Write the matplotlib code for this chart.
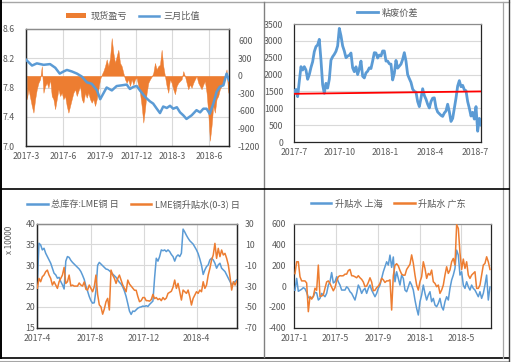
import numpy as np
import pandas as pd
import matplotlib
matplotlib.use('Agg')
import matplotlib.pyplot as plt
import matplotlib.dates as mdates
import matplotlib.transforms as mtransforms
from matplotlib.ticker import FuncFormatter
from matplotlib.lines import Line2D
from matplotlib.patches import Patch

plt.rcParams['font.family'] = ['Noto Sans CJK SC', 'DejaVu Sans']
plt.rcParams['axes.unicode_minus'] = False

# ---------------- data ----------------
# Panel 1: 现货盈亏 (bars, right axis) and 三月比值 (line, left axis)
p1_bar_values = [
    -400, -230, -370, -515, -630, -400, -230, -120, -60, 165,
    -290, -175, -120, -205, -60, -345, -400, -570, -400, -230,
    -345, -290, -400, -345, -515, -630, -515, -400, -290, -230,
    -345, -260, -175, -400, -460, -290, -375, -290, -400, -460,
    -400, -515, -400, -230, -60, 20, 80, 165, 280, 165,
    305, 645, 390, 220, 335, 445, 220, 165, 50, -60,
    -120, -60, -175, -60, -150, -60, -35, -175, -290, -515,
    -800, -570, -290, -120, -60, -15, 50, 220, 110, 165,
    190, 445, 165, -5, -175, -290, -60, -120, -230, -315,
    -175, -120, -90, -60, 80, -5, -120, -230, -150, -205,
    -120, -60, -5, -120, -175, -230, -150, -90, -290, -630,
    -1110, -855, -515, -630, -400, -345, -230, -175, -120, -5,
    110, -290]
p1_bar_start, p1_bar_end = '2017-03-03', '2018-07-18'

p1_line_dates = [
    '2017-03-01', '2017-03-16', '2017-03-28', '2017-04-14', '2017-04-30', '2017-05-13',
    '2017-05-24', '2017-06-03', '2017-06-11', '2017-06-23', '2017-07-06', '2017-07-18',
    '2017-07-31', '2017-08-12', '2017-08-25', '2017-09-02', '2017-09-10', '2017-09-18',
    '2017-10-01', '2017-10-13', '2017-10-26', '2017-11-07', '2017-11-15', '2017-11-24',
    '2017-12-02', '2017-12-10', '2017-12-23', '2018-01-04', '2018-01-12', '2018-01-21',
    '2018-01-29', '2018-02-06', '2018-02-15', '2018-02-23', '2018-03-03', '2018-03-12',
    '2018-03-20', '2018-03-28', '2018-04-05', '2018-04-18', '2018-04-30', '2018-05-09',
    '2018-05-17', '2018-05-25', '2018-06-02', '2018-06-11', '2018-06-19', '2018-06-27',
    '2018-07-06', '2018-07-14', '2018-07-20']
p1_line_values = [
    8.18, 8.10, 8.13, 8.11, 8.12, 8.07,
    7.99, 8.02, 8.04, 8.02, 7.99, 7.95,
    7.87, 7.85, 7.76, 7.64, 7.72, 7.80,
    7.76, 7.82, 7.83, 7.84, 7.78, 7.81,
    7.82, 7.76, 7.67, 7.61, 7.58, 7.51,
    7.45, 7.54, 7.52, 7.55, 7.51, 7.53,
    7.46, 7.42, 7.37, 7.42, 7.49, 7.46,
    7.51, 7.51, 7.44, 7.58, 7.74, 7.81,
    7.83, 7.99, 7.90]
p1_left_ticks = [7.0, 7.4, 7.8, 8.2, 8.6]
p1_right_ticks = [-1200, -900, -600, -300, 0, 300, 600]
p1_xticks = ['2017-03-01', '2017-06-01', '2017-09-01', '2017-12-01', '2018-03-01', '2018-06-01']

# Panel 2: 粘废价差
p2_values = [
    1490, 1560, 1345, 1800, 2235, 2135, 2235, 2135, 1860, 2000,
    2210, 2380, 2680, 2830, 2880, 3045, 2430, 1700, 1445, 1740,
    1600, 1860, 2430, 2530, 2600, 2690, 2850, 3370, 3150, 2850,
    2700, 2500, 2550, 2570, 2640, 2200, 2085, 2230, 2000, 2170,
    2400, 1950, 1900, 2050, 2100, 2200, 2180, 2400, 2650, 2640,
    2490, 2580, 2550, 2700, 2700, 2400, 2400, 2320, 2310, 1840,
    2035, 2420, 2190, 2250, 2310, 2450, 2650, 2400, 2000, 1880,
    1770, 1570, 1500, 1480, 1200, 1050, 1300, 1580, 1380, 1270,
    1120, 1010, 1200, 1300, 1310, 1020, 890, 840, 790, 760,
    860, 920, 1120, 900, 610, 700, 1000, 1300, 1660, 1820,
    1640, 1680, 1550, 1520, 1200, 1000, 770, 880, 680, 1050,
    320, 700, 505]
p2_start, p2_end = '2017-07-01', '2018-07-13'
p2_ref_dates = ['2017-07-01', '2018-07-13']
p2_ref_values = [1430, 1500]
p2_yticks = [0, 500, 1000, 1500, 2000, 2500, 3000, 3500]
p2_xticks = ['2017-07-01', '2017-10-01', '2018-01-01', '2018-04-01', '2018-07-01']

# Panel 3: 总库存:LME铜 日 (left, x10000) and LME铜升贴水(0-3) 日 (right)
p3_stock = [
    25.5, 35.3, 34.9, 33.7, 34.1, 32.9, 32.1, 31.3, 30.5, 29.3,
    28.1, 27.7, 26.9, 27.1, 26.1, 25.3, 24.3, 31.0, 32.1, 31.9,
    31.2, 30.7, 30.3, 29.9, 29.5, 29.1, 28.5, 27.6, 26.6, 25.0,
    23.8, 22.5, 21.5, 20.9, 21.0, 24.0, 30.0, 30.7, 30.3, 29.9,
    29.5, 29.1, 29.0, 28.7, 28.3, 27.9, 27.5, 27.1, 26.5, 25.9,
    25.5, 24.8, 23.8, 22.5, 20.8, 19.0, 18.2, 19.0, 18.9, 19.3,
    19.7, 19.9, 20.0, 20.2, 20.1, 20.3, 20.1, 20.6, 21.0, 21.4,
    27.0, 31.7, 31.0, 32.1, 33.7, 33.5, 33.7, 33.3, 33.7, 33.3,
    32.6, 32.1, 31.0, 32.1, 32.5, 32.1, 32.9, 38.7, 38.0, 37.2,
    36.5, 35.9, 35.5, 35.1, 34.4, 33.7, 32.8, 31.5, 30.0, 27.8,
    28.9, 29.7, 30.1, 31.3, 31.7, 31.3, 30.5, 29.3, 30.1, 30.5,
    29.3, 28.9, 28.5, 27.7, 26.9, 26.1, 25.3, 25.7, 26.1, 26.5]
p3_spread = [
    -32, -22.6, -25.8, -21.0, -19.4, -16.2, -14.6, -19.4, -22.6, -29.0,
    -25.8, -29.0, -32.2, -25.8, -22.6, -19.4, -12, -27.4, -25.8, -19.4,
    -29.8, -29, -30, -30, -30, -27, -29, -30, -26, -33,
    -33.8, -29.0, -32.2, -35.4, -30.6, -19.4, -38, -48, -50, -57,
    -52, -45.0, -41.8, -53.0, -14.6, -19.4, -22.6, -27.4, -22.6, -19.4,
    -24.2, -29.0, -32.2, -35.4, -24.2, -28, -30, -32, -34, -34,
    -40, -45, -44, -41, -41, -44, -44, -44.5, -43, -38,
    -42, -41, -43, -42, -44, -41, -43, -41.5, -37, -36,
    -35, -31, -24.2, -32.2, -27.4, -35.4, -43.4, -33.8, -35.4, -37.0,
    -33.8, -40.2, -48.2, -41.8, -38.6, -35.4, -37.0, -33.8, -35.4, -25.8,
    -32.2, -29.0, -19.4, -13.0, -5.0, -0.1, 11.1, -3.3, 6.3, -1.7,
    4.7, -0.1, 1.5, -3.3, -9.7, -21.0, -33.8, -25.8, -29.0, -25.1]
p3_start, p3_end = '2017-04-01', '2018-07-02'
p3_left_ticks = [15, 20, 25, 30, 35, 40]
p3_right_ticks = [-70, -50, -30, -10, 10, 30]
p3_xticks = ['2017-04-01', '2017-08-01', '2017-12-01', '2018-04-01']

# Panel 4: 升贴水 上海 / 升贴水 广东
p4_shanghai = [
    -40, 74, -50, -40, -30, -15, -25, -60, -110, -115,
    -110, -100, -60, -65, -134, -118, -70, -86, -102, -70,
    10, 42, 130, 30, 42, 90, 42, 10, -38, -38,
    -38, -6, -22, -54, -70, -102, -134, -70, 10, -22,
    -70, -38, -22, -70, -22, 10, -38, -70, -102, -70,
    -22, 10, 74, 138, 186, 234, 202, 298, 180, 280,
    42, 138, 74, 10, 106, 74, -38, -54, -6, 42,
    10, -38, -134, -214, -278, -150, -86, 10, -70, -134,
    -86, -54, -150, -118, -182, -198, -166, -118, -198, -230,
    -150, -102, -134, -22, 58, 106, 170, 346, 298, 106,
    138, 10, -22, 42, -6, -38, 10, -22, -38, -70,
    -102, -54, -118, -70, 10, 106, -134, -10]
p4_guangdong = [
    120, 234, 234, 90, 50, 50, 50, 30, -246, -100,
    -125, -100, -20, -40, 202, -100, -95, -85, -20, 40,
    50, 25, -10, -45, -15, 50, 90, 100, 98, 100,
    115, 115, 150, 160, 100, 98, 90, 80, 100, 80,
    65, 40, -5, 0, 35, 80, 40, -45, -40, -15,
    0, 25, 75, 60, 35, 50, 50, 60, -230, 100,
    200, 215, 195, 150, 115, 105, 105, 160, 185, 210,
    300, 220, 106, 10, -38, 42, 90, 234, 170, 74,
    122, 106, 154, 42, 26, -6, 10, -70, -38, 10,
    106, 186, 122, 154, 234, 266, 202, 590, 555, 320,
    160, 260, 170, 234, 106, 74, 106, 122, 138, -22,
    -22, 10, 106, 202, 218, 282, 234, 160]
p4_start, p4_end = '2017-01-03', '2018-07-23'
p4_yticks = [-400, -200, 0, 200, 400, 600]
p4_xticks = ['2017-01-01', '2017-05-01', '2017-09-01', '2018-01-01', '2018-05-01']

# ---------------- styling ----------------
BLUE = '#5B9BD5'
ORANGE = '#ED7D31'
RED = '#FF0000'
TXT = '#595959'
GRID = '#D9D9D9'
FS = 6.3
LFS = 6.6

W, H = 513, 362
fig = plt.figure(figsize=(W / 100, H / 100), dpi=100)
fig.patch.set_facecolor('white')


def rect(l, t, r, b):
    return [l / W, 1 - b / H, (r - l) / W, (b - t) / H]


def ym(d):
    d = mdates.num2date(d)
    return f"{d.year}-{d.month}"


month_fmt = FuncFormatter(lambda v, p: ym(v))


def style(ax):
    for s in ax.spines.values():
        s.set_color('#262626')
        s.set_linewidth(0.9)
    ax.spines['top'].set_color('#8C8C8C')
    ax.tick_params(length=0, labelsize=FS, colors=TXT)
    ax.set_facecolor('none')


def dt(lst):
    return pd.to_datetime(lst)


# ---------- Panel 1 ----------
ax1 = fig.add_axes(rect(26, 29, 229, 146))
ax1b = ax1.twinx()
style(ax1)
style(ax1b)
p1_bar_dates = pd.date_range(p1_bar_start, p1_bar_end, periods=len(p1_bar_values))
ax1.fill_between(p1_bar_dates, 0, p1_bar_values, color=ORANGE, linewidth=0.3,
                 edgecolor=ORANGE, zorder=2)
ax1.set_ylim(-1200, 800)
ax1.set_yticks(p1_right_ticks)
ax1.yaxis.tick_right()
ax1.tick_params(axis='y', pad=6.5)
ax1b.plot(dt(p1_line_dates), p1_line_values, color=BLUE, lw=1.8, zorder=3)
ax1b.set_ylim(7.0, 8.6)
ax1b.set_yticks(p1_left_ticks)
ax1b.yaxis.set_major_formatter(FuncFormatter(lambda v, p: f"{v:.1f}"))
ax1b.yaxis.tick_left()
ax1b.tick_params(axis='y', pad=8)
ax1.set_xlim(dt(['2017-03-01'])[0], dt(['2018-07-20'])[0])
ax1.set_xticks(dt(p1_xticks))
ax1.xaxis.set_major_formatter(month_fmt)
ax1.tick_params(axis='x', pad=4.5)
ax1.xaxis.grid(True, color=GRID, lw=0.8)
ax1.set_axisbelow(True)
tr = mtransforms.blended_transform_factory(ax1.transAxes, ax1b.transData)
for v in p1_left_ticks[1:-1]:
    ax1.plot([0, 1], [v, v], transform=tr, color=GRID, lw=0.8, zorder=1)

fig.legend(handles=[Patch(facecolor=ORANGE, edgecolor='none'),
                    Line2D([], [], color=BLUE, lw=1.8)],
           labels=['现货盈亏', '三月比值'], loc='center',
           bbox_to_anchor=(133 / W, 1 - 16 / H), ncol=2, frameon=False,
           fontsize=LFS, labelcolor=TXT, handlelength=2.2, handleheight=0.6,
           columnspacing=1.3, handletextpad=0.5)

# ---------- Panel 2 ----------
ax2 = fig.add_axes(rect(294.3, 24, 481, 142))
style(ax2)
p2_dates = pd.date_range(p2_start, p2_end, periods=len(p2_values))
ax2.plot(p2_dates, p2_values, color=BLUE, lw=2.0, zorder=3)
ax2.plot(dt(p2_ref_dates), p2_ref_values, color=RED, lw=1.3, zorder=4)
ax2.set_ylim(0, 3500)
ax2.set_yticks(p2_yticks)
ax2.set_xlim(dt([p2_start])[0], dt([p2_end])[0])
ax2.set_xticks(dt(p2_xticks))
ax2.xaxis.set_major_formatter(month_fmt)
ax2.yaxis.grid(True, color=GRID, lw=0.8)
ax2.set_axisbelow(True)
ax2.tick_params(axis='y', pad=8)
ax2.tick_params(axis='x', pad=4.5)
fig.legend(handles=[Line2D([], [], color=BLUE, lw=2.0)], labels=['粘废价差'],
           loc='center', bbox_to_anchor=(388 / W, 1 - 13 / H), frameon=False,
           fontsize=LFS, labelcolor=TXT, handlelength=2.2, handletextpad=0.5)

# ---------- Panel 3 ----------
ax3 = fig.add_axes(rect(37.3, 223.7, 236.7, 327.7))
ax3b = ax3.twinx()
style(ax3)
style(ax3b)
p3_dates = pd.date_range('2017-04-01', p3_end, periods=len(p3_stock))
ax3.plot(p3_dates, p3_stock, color=BLUE, lw=1.1, zorder=3)
ax3b.plot(p3_dates, p3_spread, color=ORANGE, lw=1.1, zorder=3)
ax3.set_ylim(15, 40)
ax3.set_yticks(p3_left_ticks)
ax3b.set_ylim(-70, 30)
ax3b.set_yticks(p3_right_ticks)
ax3.set_xlim(dt([p3_start])[0], dt([p3_end])[0])
ax3.set_xticks(dt(p3_xticks))
ax3.xaxis.set_major_formatter(month_fmt)
ax3.grid(True, color=GRID, lw=0.8)
ax3.set_axisbelow(True)
ax3.tick_params(axis='y', pad=1.5)
ax3b.tick_params(axis='y', pad=6)
ax3.tick_params(axis='x', pad=4.5)
fig.text(10 / W, 1 - 240 / H, 'x 10000', rotation=90, ha='center', va='center',
         fontsize=5.8, color=TXT)
fig.legend(handles=[Line2D([], [], color=BLUE, lw=1.8), Line2D([], [], color=ORANGE, lw=1.8)],
           labels=['总库存:LME铜 日', 'LME铜升贴水(0-3) 日'], loc='center',
           bbox_to_anchor=(133.5 / W, 1 - 204 / H), ncol=2, frameon=False,
           fontsize=LFS, labelcolor=TXT, handlelength=2.2, columnspacing=1.3,
           handletextpad=0.4)

# ---------- Panel 4 ----------
ax4 = fig.add_axes(rect(294.3, 223.7, 491, 327.7))
style(ax4)
p4_dates = pd.date_range(p4_start, p4_end, periods=len(p4_shanghai))
ax4.plot(p4_dates, p4_shanghai, color=BLUE, lw=1.1, zorder=3)
ax4.plot(p4_dates, p4_guangdong, color=ORANGE, lw=1.1, zorder=4)
ax4.set_ylim(-400, 600)
ax4.set_yticks(p4_yticks)
ax4.set_xlim(dt(['2017-01-01'])[0], dt(['2018-07-26'])[0])
ax4.set_xticks(dt(p4_xticks))
ax4.xaxis.set_major_formatter(month_fmt)
ax4.grid(True, color=GRID, lw=0.8)
ax4.set_axisbelow(True)
ax4.tick_params(axis='y', pad=6)
ax4.tick_params(axis='x', pad=4.5)
fig.legend(handles=[Line2D([], [], color=BLUE, lw=1.8), Line2D([], [], color=ORANGE, lw=1.8)],
           labels=['升贴水 上海', '升贴水 广东'], loc='center',
           bbox_to_anchor=(388.5 / W, 1 - 204 / H), ncol=2, frameon=False,
           fontsize=LFS, labelcolor=TXT, handlelength=2.2, columnspacing=1.3,
           handletextpad=0.4)


# ---------- frame lines ----------
def fline(x0, y0, x1, y1, color, lw):
    fig.add_artist(Line2D([x0 / W, x1 / W], [1 - y0 / H, 1 - y1 / H],
                          transform=fig.transFigure, color=color, lw=lw))


fline(0, 2, 509, 2, '#A6A6A6', 1.0)
fline(1, 0, 1, 358, '#000000', 1.4)
fline(0, 357.5, 509, 357.5, '#000000', 1.2)
fline(0, 360.5, 509, 360.5, '#A6A6A6', 0.8)
fline(503, 2, 503, 358, '#A6A6A6', 0.9)
fline(509, 0, 509, 361, '#404040', 1.0)
fline(264, 2, 264, 357, '#808080', 1.0)
fline(0, 189, 509, 189, '#000000', 1.2)

fig.savefig('out.png', dpi=100, facecolor='white')
